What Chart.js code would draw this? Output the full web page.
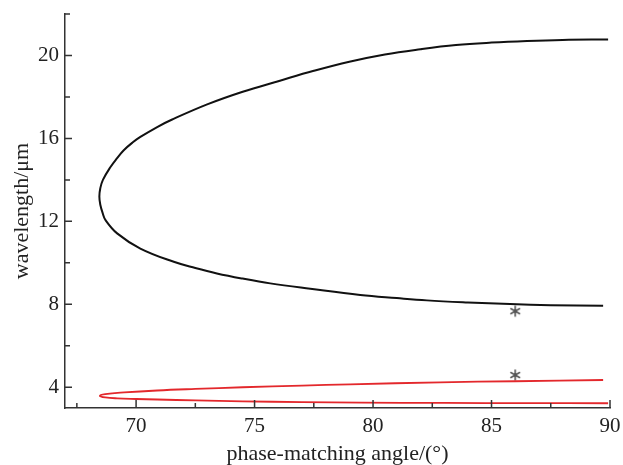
<!DOCTYPE html>
<html>
<head>
<meta charset="utf-8">
<script src="https://cdn.jsdelivr.net/npm/chart.js@4.4.1/dist/chart.umd.min.js"></script>
<style>
  html, body { margin: 0; padding: 0; background: #fff; }
  #wrap { width: 623px; height: 465px; }
</style>
</head>
<body>
<div id="wrap"><canvas id="chart" width="623" height="465"></canvas></div>
<script>
// dane
const blackAngle = [89.92, 88.0, 86.5, 85.0, 83.5, 82.0, 80.5, 79.0, 77.5, 76.0, 74.5, 73.0, 71.5, 70.89, 70.18, 69.85, 69.48, 69.20, 68.92, 68.60, 68.49, 68.45, 68.49, 68.59, 68.71, 69.20, 70.18, 71.59, 72.50, 73.41, 74.50, 75.66, 77.35, 79.46, 81.00, 82.27, 84.00, 85.78, 87.50, 89.71];
const blackWave  = [20.77, 20.75, 20.70, 20.62, 20.50, 20.30, 20.05, 19.70, 19.26, 18.76, 18.25, 17.64, 16.90, 16.55, 16.07, 15.80, 15.43, 15.05, 14.62, 14.00, 13.60, 13.20, 12.80, 12.40, 12.06, 11.42, 10.69, 10.05, 9.75, 9.49, 9.24, 9.01, 8.75, 8.45, 8.30, 8.19, 8.09, 8.01, 7.96, 7.93];

const redAngle = [89.71, 86.0, 82.83, 79.03, 77.0, 74.5, 72.5, 70.89, 69.5, 68.7, 68.47, 68.7, 69.2, 70.0, 70.89, 72.5, 74.5, 77.0, 79.5, 83.0, 86.5, 89.92];
const redWave  = [4.35, 4.29, 4.24, 4.14, 4.08, 4.00, 3.92, 3.845, 3.75, 3.665, 3.58, 3.51, 3.465, 3.435, 3.41, 3.365, 3.32, 3.285, 3.26, 3.245, 3.235, 3.23];

const starAngle = [86.0, 86.0];
const starWave  = [7.67, 4.59];

const xTicks = [70, 75, 80, 85, 90];
const xMinor = [67.5, 72.5, 77.5, 82.5, 87.5];
const yTicks = [4, 8, 12, 16, 20];
const yMinor = [6, 10, 14, 18, 22];

const pts = (xs, ys) => xs.map((x, i) => ({ x: x, y: ys[i] }));

// gwiazdka (6 ramion) jako pointStyle
function makeAsterisk(){
  const c = document.createElement('canvas');
  c.width = 14; c.height = 14;
  const g = c.getContext('2d');
  g.strokeStyle = '#555';
  g.lineWidth = 1.6;
  g.lineCap = 'round';
  g.beginPath();
  [90, 30, 150].forEach(deg => {
    const r = deg * Math.PI / 180;
    const dx = Math.cos(r) * 5, dy = Math.sin(r) * 5;
    g.moveTo(7 - dx, 7 - dy);
    g.lineTo(7 + dx, 7 + dy);
  });
  g.stroke();
  return c;
}

// kreski podziałki do środka
const innerTicks = {
  id: 'innerTicks',
  afterDatasetsDraw(chart) {
    const ctx = chart.ctx;
    const xs = chart.scales.x, ys = chart.scales.y;
    const a = chart.chartArea;
    ctx.save();
    ctx.strokeStyle = '#333';
    ctx.lineWidth = 1.5;
    ctx.beginPath();
    xTicks.forEach(v => { const p = xs.getPixelForValue(v); ctx.moveTo(p, a.bottom); ctx.lineTo(p, a.bottom - 8); });
    xMinor.forEach(v => { const p = xs.getPixelForValue(v); ctx.moveTo(p, a.bottom); ctx.lineTo(p, a.bottom - 5); });
    yTicks.forEach(v => { const p = ys.getPixelForValue(v); ctx.moveTo(a.left, p); ctx.lineTo(a.left + 7, p); });
    yMinor.forEach(v => { const p = ys.getPixelForValue(v); ctx.moveTo(a.left, p); ctx.lineTo(a.left + 5, p); });
    ctx.stroke();
    ctx.restore();
  }
};

const serif = '"Liberation Serif", "DejaVu Serif", serif';

new Chart(document.getElementById('chart').getContext('2d'), {
  type: 'scatter',
  data: {
    datasets: [
      { data: pts(blackAngle, blackWave), showLine: true, borderColor: '#111', borderWidth: 2, pointRadius: 0, tension: 0.4, fill: false },
      { data: pts(redAngle, redWave), showLine: true, borderColor: '#e3282c', borderWidth: 1.8, pointRadius: 0, tension: 0.4, fill: false },
      { data: pts(starAngle, starWave), showLine: false, pointStyle: makeAsterisk(), pointRadius: 6 }
    ]
  },
  options: {
    responsive: false,
    animation: false,
    layout: { padding: { top: 14, right: 13, left: 0, bottom: 0 } },
    plugins: { legend: { display: false }, tooltip: { enabled: false } },
    scales: {
      x: {
        type: 'linear', min: 67, max: 90,
        afterBuildTicks: s => { s.ticks = xTicks.map(v => ({ value: v })); },
        afterFit: s => { s.height = 57; s.paddingLeft = 0; s.paddingRight = 0; },
        grid: { display: false, drawTicks: false },
        border: { display: true, color: '#333', width: 1.5 },
        ticks: { color: '#222', padding: 6, maxRotation: 0, font: { family: serif, size: 21 } },
        title: { display: true, text: 'phase-matching angle/(°)', color: '#222', padding: { top: 0, bottom: 0 }, font: { family: serif, size: 22, lineHeight: 1 } }
      },
      y: {
        type: 'linear', min: 3, max: 22,
        afterBuildTicks: s => { s.ticks = yTicks.map(v => ({ value: v })); },
        afterFit: s => { s.width = 65; s.paddingTop = 0; s.paddingBottom = 0; },
        grid: { display: false, drawTicks: false },
        border: { display: true, color: '#333', width: 1.5 },
        ticks: { color: '#222', padding: 6, font: { family: serif, size: 21 } },
        title: { display: true, text: 'wavelength/μm', color: '#222', padding: { top: 11, bottom: 0 }, font: { family: serif, size: 22, lineHeight: 1 } }
      }
    }
  },
  plugins: [innerTicks]
});
</script>
</body>
</html>
